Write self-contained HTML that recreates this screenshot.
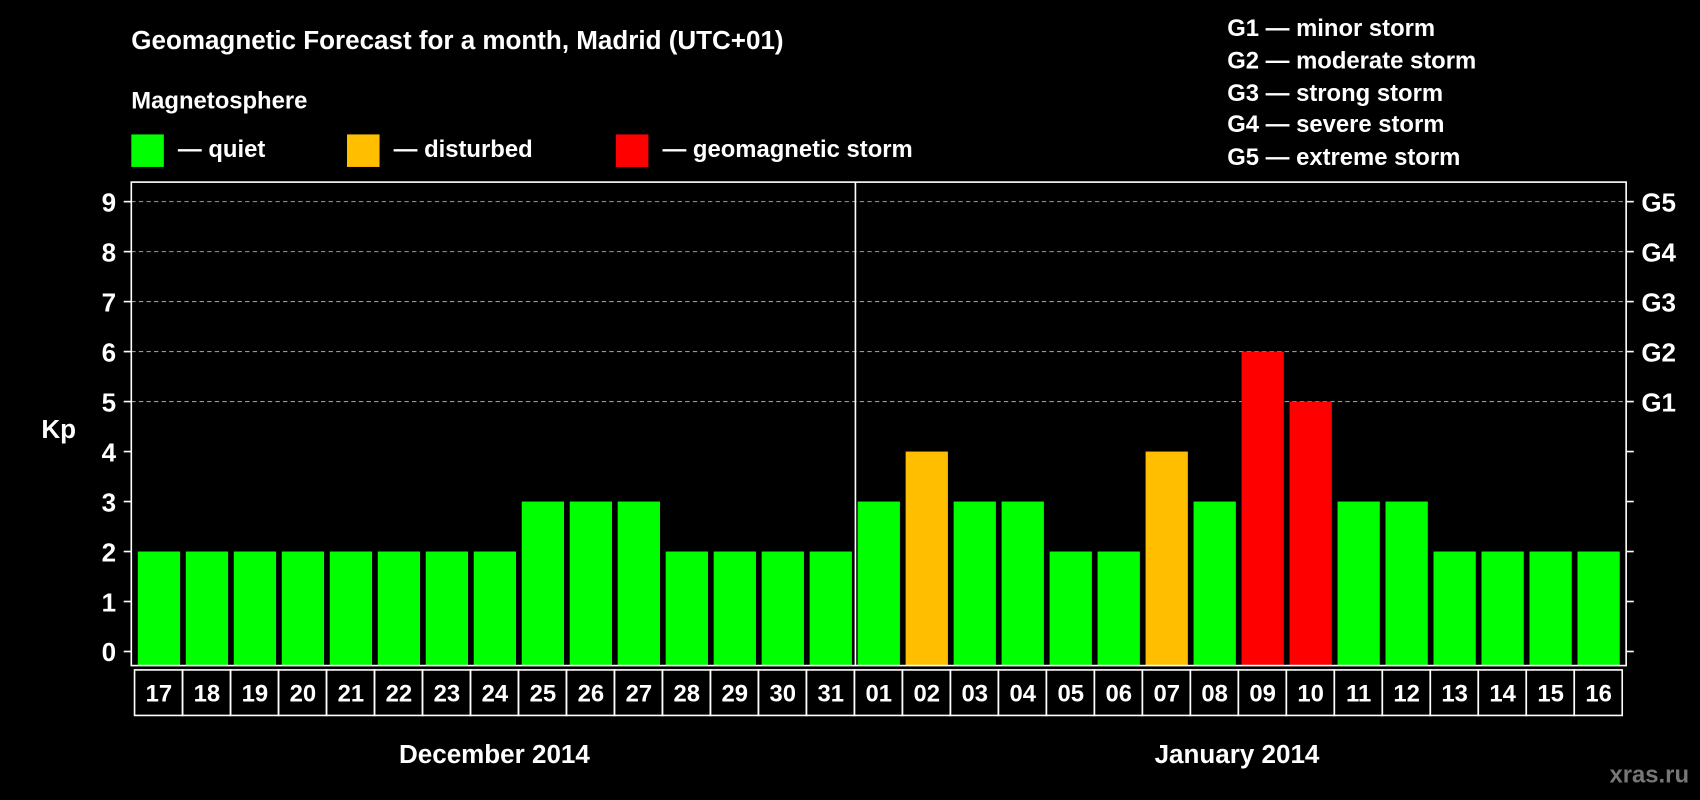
<!DOCTYPE html>
<html><head><meta charset="utf-8"><style>
html,body{margin:0;padding:0;background:#000;width:1700px;height:800px;overflow:hidden}
svg text{font-family:"Liberation Sans",Arial,sans-serif;font-weight:bold;fill:#fff}
</style></head><body>
<svg id="chart" width="1700" height="800" viewBox="0 0 1568 738" xmlns="http://www.w3.org/2000/svg">
<rect width="1568" height="738" fill="#000"/>
<text x="121" y="45" font-size="24">Geomagnetic Forecast for a month, Madrid (UTC+01)</text>
<text x="121" y="100" font-size="22">Magnetosphere</text>
<g><rect x="121" y="124" width="30" height="30" fill="#00ff00"/><text x="164" y="145" font-size="22">— quiet</text></g>
<g><rect x="320" y="124" width="30" height="30" fill="#ffbf00"/><text x="363" y="145" font-size="22">— disturbed</text></g>
<g><rect x="568" y="124" width="30" height="30" fill="#ff0000"/><text x="611" y="145" font-size="22">— geomagnetic storm</text></g>
<g font-size="22">
<text x="1132" y="33">G1 — minor storm</text>
<text x="1132" y="63">G2 — moderate storm</text>
<text x="1132" y="93">G3 — strong storm</text>
<text x="1132" y="122">G4 — severe storm</text>
<text x="1132" y="152">G5 — extreme storm</text>
</g>
<text x="38" y="404" font-size="24">Kp</text>
<g id="grid"></g><g id="bars"></g><g id="axes"></g><g id="xlabels"></g>
<text x="456" y="704" font-size="24" text-anchor="middle">December 2014</text>
<text x="1141" y="704" font-size="24" text-anchor="middle">January 2014</text>
<text x="1558" y="722" font-size="22" text-anchor="end" style="fill:#777">xras.ru</text>
</svg>
<script>
const days=["17","18","19","20","21","22","23","24","25","26","27","28","29","30","31","01","02","03","04","05","06","07","08","09","10","11","12","13","14","15","16"];
const kpValues=[2,2,2,2,2,2,2,2,3,3,3,2,2,2,2,3,4,3,3,2,2,4,3,6,5,3,3,2,2,2,2];
const yTicks=[0,1,2,3,4,5,6,7,8,9];
const gLabels=["G1","G2","G3","G4","G5"];
const NS="http://www.w3.org/2000/svg";
const L=121,R=1500,T=168,B=614;
function y(v){return 601-v*46.11;}
function x(i){return 127+i*44.27;}
function mk(tag,attrs,parent){const e=document.createElementNS(NS,tag);for(const k in attrs)e.setAttribute(k,attrs[k]);parent.appendChild(e);return e;}
const grid=document.getElementById('grid'),bars=document.getElementById('bars'),axes=document.getElementById('axes'),xl=document.getElementById('xlabels');
yTicks.forEach(v=>{
  if(v>=5){const l=mk('line',{x1:L,x2:R,y1:y(v),y2:y(v),stroke:'#999','stroke-dasharray':'4,3','stroke-width':1},grid);
  
  }
  const t=mk('line',{x1:L-7,x2:L,y1:y(v),y2:y(v),stroke:'#fff','stroke-width':1.5},axes);
  
  
  const t2=mk('line',{x1:R,x2:R+7,y1:y(v),y2:y(v),stroke:'#fff','stroke-width':1.5},axes);
  
  
  const tx=mk('text',{x:L-14,y:y(v)+9,'font-size':24,'text-anchor':'end'},axes);tx.textContent=v;
  
  
});
gLabels.forEach((g,i)=>{const t=mk('text',{x:R+14,y:y(5+i)+9,'font-size':24},axes);t.textContent=g;
  
  });
kpValues.forEach((v,i)=>{
  const c=v>=5?'#ff0000':(v>=4?'#ffbf00':'#00ff00');
  const r=mk('rect',{x:x(i),y:y(v),width:39,height:B-y(v),fill:c},bars);
  
  
  const b=mk('rect',{x:x(i)-3,y:618,width:44.27,height:42,fill:'none',stroke:'#fff','stroke-width':1.5},xl);
  
  
  const t=mk('text',{x:x(i)+19.5,y:647,'font-size':22,'text-anchor':'middle'},xl);t.textContent=days[i];
  
  
});
const frame=mk('rect',{x:L,y:T,width:R-L,height:B-T,fill:'none',stroke:'#fff','stroke-width':1.5},axes);


const div=mk('line',{x1:789,x2:789,y1:T,y2:B,stroke:'#fff','stroke-width':1.5},axes);


</script>
</body></html>
